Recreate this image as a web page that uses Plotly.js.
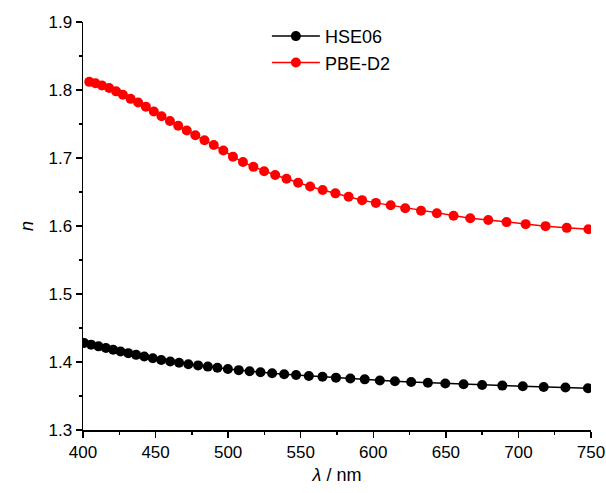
<!DOCTYPE html>
<html>
<head>
<meta charset="utf-8">
<script src="https://cdn.plot.ly/plotly-3.0.1.min.js"></script>
<style>html,body{margin:0;padding:0;background:#fff;}#chart{width:606px;height:493px;}</style>
</head>
<body>
<div id="chart"></div>
<script>
// HSE06 series (wavelength in nm, refractive index n)
const wlHSE = [400.8, 405.6, 410.7, 415.8, 420.8, 425.9, 431.2, 436.6, 442.2, 448.1,
  453.9, 460.1, 466.2, 472.6, 479.3, 486.0, 492.6, 499.8, 507.3, 514.8,
  522.3, 530.3, 538.6, 546.8, 555.6, 565.0, 574.3, 584.2, 594.1, 604.5,
  614.9, 626.1, 637.6, 649.6, 662.2, 675.0, 688.9, 703.0, 717.4, 732.4, 747.9];
const nHSE = [1.428, 1.4255, 1.423, 1.4205, 1.418, 1.4155, 1.413, 1.4105, 1.408, 1.4055,
  1.403, 1.4008, 1.3988, 1.3968, 1.395, 1.3932, 1.3915, 1.3897, 1.388, 1.3865,
  1.385, 1.3835, 1.382, 1.3808, 1.3795, 1.3782, 1.377, 1.3757, 1.3745, 1.3728,
  1.3716, 1.3705, 1.3694, 1.3683, 1.3673, 1.3663, 1.3653, 1.3643, 1.3633, 1.3624, 1.3614];

// PBE-D2 series
const wlPBE = [404.3, 408.6, 413.0, 418.0, 422.8, 427.5, 432.8, 438.0, 443.3, 448.8,
  454.1, 459.9, 465.6, 471.5, 477.4, 483.7, 490.1, 496.7, 503.3, 510.2,
  517.4, 524.8, 532.4, 540.2, 548.2, 556.5, 565.1, 573.9, 583.0, 592.3,
  601.8, 612.0, 622.0, 632.9, 643.8, 655.3, 666.8, 679.2, 691.8, 705.0,
  718.7, 733.3, 748.2];
const nPBE = [1.812, 1.810, 1.8068, 1.803, 1.798, 1.793, 1.787, 1.7817, 1.7755, 1.7685,
  1.7614, 1.7545, 1.7475, 1.7405, 1.7335, 1.7262, 1.719, 1.711, 1.702, 1.694,
  1.687, 1.6805, 1.675, 1.6695, 1.6635, 1.658, 1.653, 1.648, 1.643, 1.638,
  1.634, 1.6305, 1.626, 1.6225, 1.6188, 1.615, 1.6115, 1.6089, 1.6057, 1.6027,
  1.5998, 1.5973, 1.5951];

const seriesNames = ['HSE06', 'PBE-D2'];
const seriesColors = ['#000000', '#ff0000'];

const FONT = '"Liberation Sans", Arial, sans-serif';

const traces = [
  {x: wlHSE, y: nHSE, name: seriesNames[0], type: 'scatter', mode: 'lines+markers',
   line: {color: seriesColors[0], width: 1.5}, marker: {color: seriesColors[0], size: 10}},
  {x: wlPBE, y: nPBE, name: seriesNames[1], type: 'scatter', mode: 'lines+markers',
   line: {color: seriesColors[1], width: 1.5}, marker: {color: seriesColors[1], size: 10}}
];

const axisCommon = {
  showline: true, linecolor: '#000', linewidth: 1.5,
  showgrid: false, zeroline: false,
  ticks: 'outside', ticklen: 6, tickwidth: 1.5, tickcolor: '#000',
  tickfont: {family: FONT, size: 17, color: '#000'},
  mirror: false
};

const layout = {
  width: 606, height: 493,
  margin: {l: 83, r: 15, t: 22, b: 63},
  paper_bgcolor: '#fff', plot_bgcolor: '#fff',
  showlegend: true,
  xaxis: Object.assign({}, axisCommon, {
    range: [400, 750], dtick: 50, tick0: 400,
    minor: {dtick: 25, ticks: 'outside', ticklen: 3, tickwidth: 1.5, tickcolor: '#000', showgrid: false},
    title: {text: '<i>λ</i> / nm', font: {family: FONT, size: 18, color: '#000'}, standoff: 7}
  }),
  yaxis: Object.assign({}, axisCommon, {
    range: [1.3, 1.9], dtick: 0.1, tick0: 1.3, tickformat: '.1f',
    minor: {dtick: 0.05, ticks: 'outside', ticklen: 3, tickwidth: 1.5, tickcolor: '#000', showgrid: false},
    title: {text: '<i>n</i>', font: {family: FONT, size: 18, color: '#000'}, standoff: 10}
  }),
  legend: {
    x: 0.362, y: 1.01, xanchor: 'left', yanchor: 'top',
    font: {family: FONT, size: 18, color: '#000'},
    bgcolor: 'rgba(0,0,0,0)', itemwidth: 48
  }
};

Plotly.newPlot('chart', traces, layout, {displayModeBar: false, staticPlot: true});
</script>
</body>
</html>
